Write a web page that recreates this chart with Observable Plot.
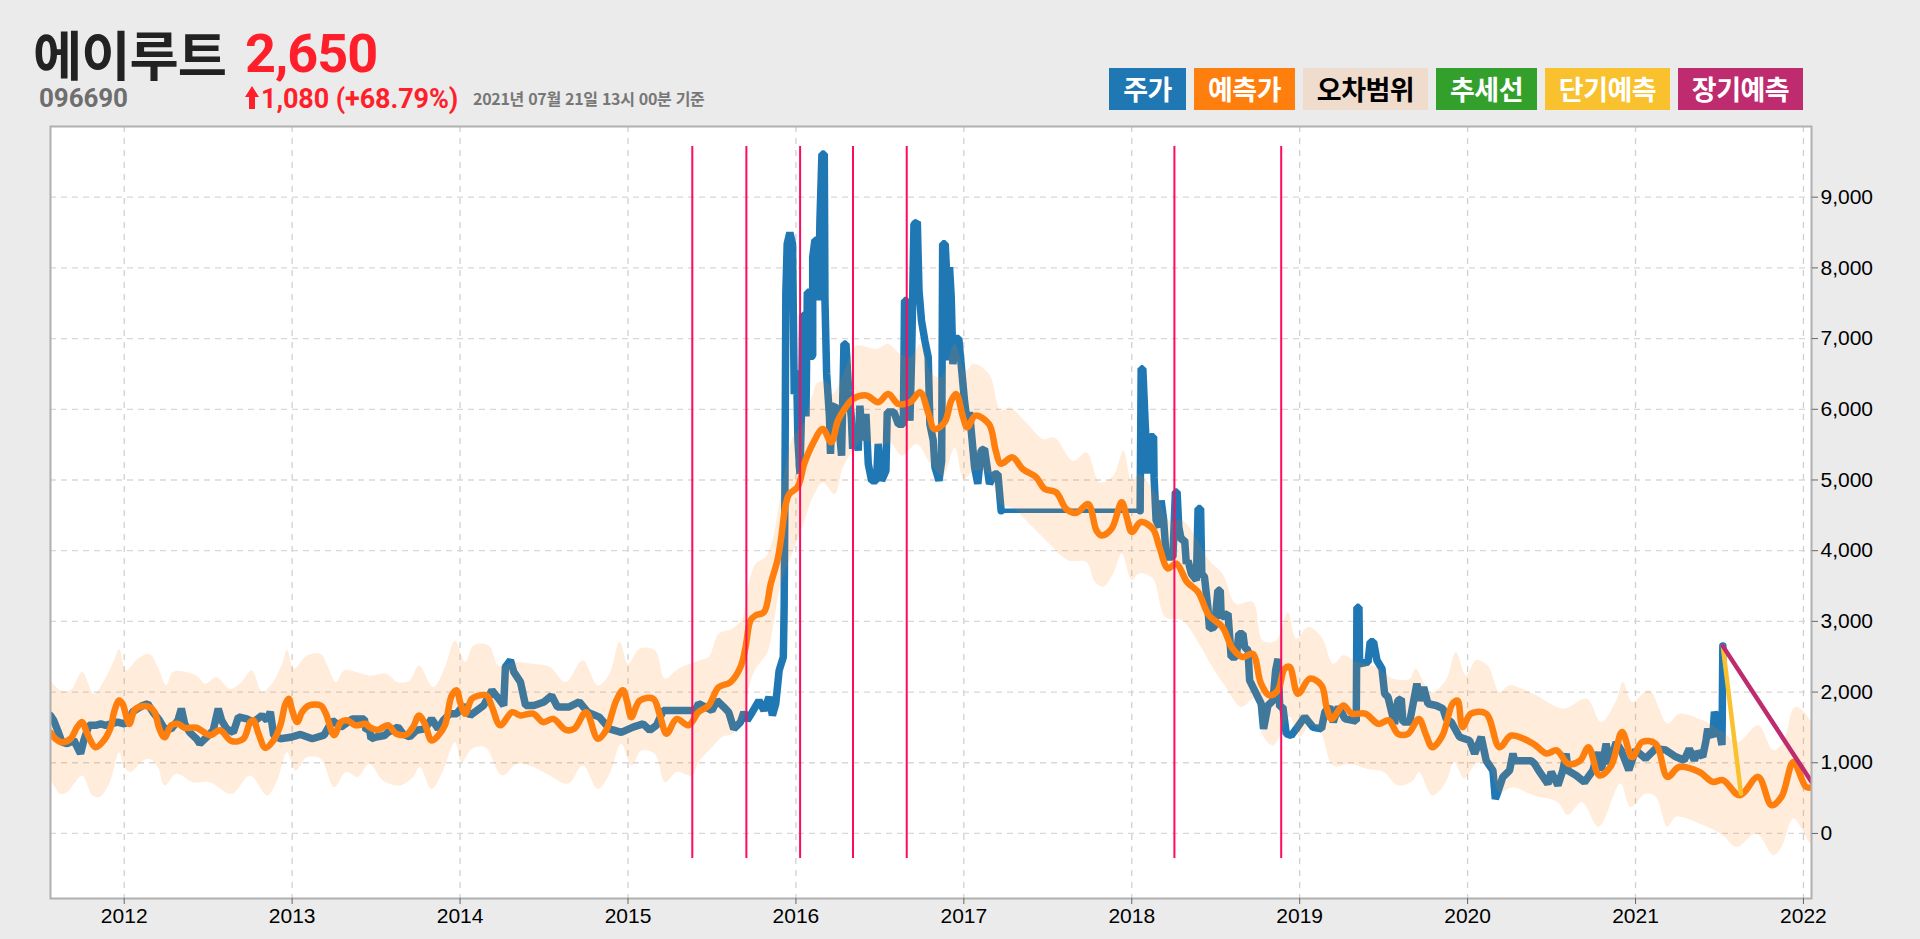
<!DOCTYPE html>
<html lang="ko"><head><meta charset="utf-8">
<script src="https://cdn.jsdelivr.net/npm/d3@7"></script>
<script src="https://cdn.jsdelivr.net/npm/@observablehq/plot@0.6"></script>
<style>
html,body{margin:0;padding:0;background:#ebebeb;width:1920px;height:939px;overflow:hidden}
body{position:relative;font-family:"Noto Sans CJK KR","Noto Sans",sans-serif}
#chart{position:absolute;left:0;top:0}
.t{position:absolute;white-space:nowrap;font-weight:700;line-height:1}
.lg{position:absolute;top:68px;height:42px;line-height:41px;text-align:center;font-weight:700;font-size:27px;color:#fff;letter-spacing:-.5px}
</style></head><body>
<div id="chart"></div>
<div id="head"></div>
<script>
const stockName = "에이루트", stockCode = "096690", lastPrice = "2,650", change = "1,080 (+68.79%)", stamp = "2021년 07월 21일 13시 00분 기준";
const legendLabels = ["주가","예측가","오차범위","추세선","단기예측","장기예측"];
const legendColors = ["#1f77b4","#ff7f0e","#efdccc","#33a02c","#f8c12d","#bf2b6f"];
const yearTicks = [2012,2013,2014,2015,2016,2017,2018,2019,2020,2021,2022];
const valueTicks = [0,1000,2000,3000,4000,5000,6000,7000,8000,9000];
const signalYears = [2015.383,2015.705,2016.025,2016.34,2016.66,2018.254,2018.89];
const shortTerm = [[2021.52,2650],[2021.628,565]];
const longTerm = [[2021.52,2650],[2022.048,730]];
const priceFlat = [[2017.222,4565],[2018.05,4565]];
const priceBefore = [[2011.56,1670],[2011.58,1600],[2011.60,1480],[2011.63,1290],[2011.66,1270],[2011.70,1320],[2011.73,1175],[2011.74,1130],[2011.76,1320],[2011.79,1530],[2011.83,1530],[2011.86,1550],[2011.89,1530],[2011.92,1550],[2011.96,1575],[2012.00,1550],[2012.03,1600],[2012.05,1720],[2012.08,1765],[2012.11,1810],[2012.14,1835],[2012.17,1720],[2012.21,1600],[2012.24,1480],[2012.28,1480],[2012.32,1600],[2012.34,1765],[2012.36,1550],[2012.39,1430],[2012.43,1340],[2012.45,1270],[2012.49,1360],[2012.53,1460],[2012.56,1765],[2012.58,1600],[2012.61,1480],[2012.65,1430],[2012.68,1650],[2012.73,1620],[2012.77,1575],[2012.82,1670],[2012.85,1600],[2012.87,1720],[2012.89,1390],[2012.93,1340],[2012.99,1360],[2013.05,1400],[2013.12,1340],[2013.19,1390],[2013.24,1600],[2013.29,1505],[2013.36,1620],[2013.43,1620],[2013.44,1460],[2013.46,1480],
[2013.47,1340],[2013.50,1365],[2013.55,1385],[2013.57,1430],[2013.63,1505],[2013.66,1410],[2013.70,1365],[2013.74,1460],[2013.79,1480],[2013.83,1620],[2013.87,1480],[2013.90,1600],[2013.94,1695],[2013.98,1695],[2014.02,1810],[2014.06,1670],[2014.10,1740],[2014.14,1810],[2014.19,2025],[2014.23,1905],[2014.26,1810],[2014.27,2355],[2014.30,2450],[2014.32,2285],[2014.36,2140],[2014.39,1810],[2014.44,1810],[2014.50,1860],[2014.545,1950],[2014.58,1790],[2014.65,1790],[2014.71,1860],[2014.76,1715],[2014.83,1645],[2014.89,1480],[2014.96,1430],[2015.03,1505],[2015.09,1550],[2015.13,1460],[2015.17,1530],[2015.21,1740],[2015.27,1740],[2015.34,1740],[2015.40,1740],
[2015.42,1835],[2015.46,1790],[2015.50,1740],[2015.53,1880],[2015.57,1790],[2015.60,1715],[2015.63,1480],[2015.67,1575],[2015.69,1715],[2015.71,1600],[2015.74,1715],[2015.78,1880],[2015.81,1740],[2015.84,1930],[2015.86,1670],[2015.88,1835],[2015.90,2305],[2015.925,2495],[2015.93,3200],[2015.935,5000],
[2015.94,7630],[2015.948,8340],[2015.964,8500],[2015.98,8340],[2015.984,7490],[2015.99,6215],[2016.004,6550],[2016.012,5560],[2016.024,5085],[2016.034,6030],[2016.04,7325],[2016.052,7325],[2016.06,5900],[2016.068,7655],[2016.083,7655],[2016.087,6735],[2016.10,6760],[2016.10,8150],[2016.113,8390],[2016.127,8390],[2016.135,7540],[2016.143,8670],[2016.155,9610],[2016.169,9610],[2016.173,7540],[2016.183,6500],[2016.20,5890],[2016.206,5370],[2016.214,6030],[2016.232,6050],[2016.252,5890],[2016.272,5345],[2016.286,6925],[2016.298,6925],[2016.314,6265],[2016.33,5890],[2016.338,5440],[2016.357,5770],[2016.371,5415],[2016.381,6050],[2016.397,5560],[2016.417,5935],[2016.431,5225],[2016.451,4990],[2016.48,4990],[2016.49,5510],[2016.51,4990],[2016.536,5130],[2016.544,5960],[2016.584,5960],[2016.61,5790],[2016.64,5790],[2016.647,7540],[2016.66,7540],[2016.663,6120],[2016.679,5840],[2016.689,6735],[2016.703,8620],[2016.723,8650],[2016.733,7680],[2016.748,7250],[2016.768,6970],[2016.788,6735],[2016.798,5790],[2016.818,5560],[2016.828,5180],[2016.852,4990],[2016.868,5270],[2016.874,8340],[2016.889,8340],[2016.895,8057],[2016.905,6690],[2016.915,8010],[2016.925,7585],[2016.935,6640],[2016.954,7000],[2016.97,7000],[2016.984,6640],[2017.004,6120],[2017.024,5745],[2017.034,5960],[2017.064,5180],[2017.083,4945],[2017.103,5415],[2017.123,5440],[2017.153,4945],[2017.183,5085],[2017.203,5085],[2017.222,4565]];
const priceAfter = [[2018.05,4565],[2018.056,6575],[2018.066,6575],[2018.08,5800],[2018.095,5090],[2018.11,5610],[2018.13,5610],[2018.133,5040],[2018.145,4430],[2018.165,4335],[2018.175,4710],[2018.19,4430],[2018.205,3910],[2018.245,3910],[2018.26,4830],[2018.27,4830],[2018.28,4335],[2018.295,4150],[2018.315,4150],[2018.325,3815],[2018.335,3860],[2018.355,3675],[2018.385,3580],[2018.395,4595],[2018.41,4595],[2018.417,3675],[2018.433,3630],[2018.453,3200],[2018.463,2895],[2018.493,2920],[2018.513,3440],[2018.527,3440],[2018.533,3060],[2018.573,3110],[2018.592,2495],[2018.622,2495],[2018.638,2825],[2018.662,2825],[2018.672,2640],[2018.692,2590],[2018.702,2165],[2018.742,1975],[2018.771,1835],[2018.785,1480],[2018.811,1810],[2018.841,1880],[2018.857,2310],[2018.871,2470],[2018.881,1790],[2018.90,1790],[2018.92,1410],[2018.95,1385],[2018.98,1480],[2019.03,1650],[2019.08,1500],
[2019.13,1480],[2019.15,1720],[2019.18,1790],[2019.20,1575],[2019.23,1790],[2019.27,1620],[2019.337,1590],[2019.341,3200],[2019.353,3200],[2019.357,2400],[2019.407,2425],[2019.42,2710],[2019.44,2710],[2019.46,2450],[2019.49,2330],[2019.506,1975],[2019.526,1930],[2019.565,1550],[2019.585,1880],[2019.605,1905],[2019.615,1575],[2019.655,1575],[2019.698,2120],[2019.714,1880],[2019.738,2070],[2019.764,1835],[2019.813,1810],[2019.853,1765],[2019.873,1620],[2019.903,1575],[2019.952,1365],[2020.012,1315],[2020.042,1130],[2020.081,1365],[2020.111,1030],[2020.151,890],[2020.165,490],[2020.18,585],[2020.21,800],[2020.25,890],[2020.27,1130],[2020.28,1030],[2020.379,1030],[2020.399,985],[2020.429,870],[2020.478,700],[2020.498,870],[2020.538,680],[2020.567,890],[2020.587,1130],[2020.597,890],[2020.647,820],[2020.696,725],[2020.746,890],[2020.776,1150],[2020.796,890],[2020.825,1270],[2020.845,985],[2020.885,1290],[2020.915,1175],[2020.96,895],[2021.00,1180],[2021.06,1060],[2021.12,1200],[2021.18,1180],[2021.24,1085],[2021.29,1035],[2021.32,1200],[2021.35,1035],[2021.37,1155],[2021.40,1085],[2021.42,1320],[2021.43,1480],[2021.46,1365],[2021.47,1720],[2021.49,1555],[2021.515,1250],[2021.52,2650]];
const forecast = [[2011.56,1430],[2011.59,1340],[2011.63,1290],[2011.68,1340],[2011.72,1505],[2011.75,1575],[2011.78,1410],[2011.83,1220],[2011.88,1320],[2011.92,1505],[2011.94,1720],[2011.97,1880],[2011.99,1835],[2012.03,1550],[2012.06,1740],[2012.09,1790],[2012.15,1790],[2012.18,1720],[2012.21,1480],[2012.24,1360],[2012.28,1530],[2012.32,1550],[2012.36,1495],[2012.43,1495],[2012.51,1390],[2012.57,1460],[2012.64,1305],[2012.71,1340],[2012.75,1575],[2012.77,1600],[2012.80,1410],[2012.84,1210],[2012.89,1320],[2012.93,1530],[2012.96,1835],[2012.98,1905],[2013.00,1740],[2013.03,1575],[2013.06,1720],[2013.10,1810],[2013.17,1810],[2013.20,1700],[2013.25,1390],[2013.29,1575],[2013.33,1600],[2013.375,1530],[2013.44,1550],
[2013.46,1505],[2013.51,1465],[2013.57,1530],[2013.62,1410],[2013.68,1400],[2013.72,1505],[2013.755,1670],[2013.79,1550],[2013.83,1315],[2013.87,1385],[2013.91,1530],[2013.95,1950],[2013.98,2025],[2014.00,1860],[2014.03,1695],[2014.07,1905],[2014.11,1950],[2014.16,1950],[2014.19,1790],[2014.24,1530],[2014.31,1715],[2014.36,1670],[2014.435,1695],[2014.495,1575],[2014.555,1620],[2014.63,1465],[2014.68,1480],[2014.75,1715],[2014.82,1340],[2014.87,1460],[2014.93,1880],[2014.97,2025],[2014.995,1860],[2015.02,1645],[2015.07,1880],[2015.15,1905],[2015.19,1670],[2015.23,1410],[2015.29,1620],[2015.36,1530],
[2015.42,1715],[2015.48,1810],[2015.54,2070],[2015.61,2140],[2015.67,2355],[2015.70,2635],[2015.73,3015],[2015.76,3085],[2015.81,3130],[2015.85,3530],[2015.89,3865],[2015.91,4145],[2015.94,4660],[2015.96,4800],[2016.01,4900],[2016.05,5230],[2016.10,5510],[2016.16,5720],[2016.21,5535],[2016.25,5840],[2016.29,6005],[2016.34,6145],[2016.42,6195],[2016.49,6100],[2016.55,6215],[2016.61,6075],[2016.68,6100],[2016.74,6240],[2016.79,5935],[2016.825,5720],[2016.885,5815],[2016.925,6120],[2016.955,6215],[2016.995,5890],[2017.02,5745],[2017.07,5910],[2017.15,5790],[2017.19,5415],[2017.22,5230],[2017.29,5320],[2017.35,5155],[2017.43,5040],[2017.48,4875],[2017.55,4825],[2017.61,4590],
[2017.67,4535],[2017.74,4660],[2017.79,4285],[2017.82,4215],[2017.88,4310],[2017.94,4685],[2017.97,4475],[2018.00,4265],[2018.055,4405],[2018.125,4310],[2018.165,4050],[2018.215,3750],[2018.265,3815],[2018.33,3555],[2018.395,3415],[2018.46,3085],[2018.54,2920],[2018.60,2615],[2018.66,2495],[2018.72,2540],[2018.77,2120],[2018.82,1955],[2018.87,2025],[2018.91,2330],[2018.94,2355],[2018.99,1975],[2019.06,2190],[2019.13,2095],[2019.16,1790],[2019.19,1620],[2019.26,1810],[2019.31,1695],[2019.39,1695],[2019.47,1550],[2019.53,1600],[2019.585,1410],[2019.645,1410],[2019.71,1620],[2019.75,1410],[2019.79,1220],[2019.85,1385],[2019.91,1835],[2019.94,1880],[2019.97,1505],[2020.02,1695],[2020.11,1695],[2020.19,1220],[2020.26,1385],[2020.39,1270],[2020.47,1130],[2020.53,1175],[2020.60,985],[2020.67,1030],[2020.72,1220],[2020.785,820],[2020.855,960],[2020.92,1435],[2020.98,1080],[2021.04,1295],[2021.12,1270],[2021.19,800],[2021.26,940],[2021.38,870],[2021.46,730],[2021.52,755],[2021.62,540],[2021.73,800],[2021.81,400],[2021.87,520],[2021.94,1010],[2022.015,660],[2022.048,650]];
const bandUpper = [[2011.56,2165],[2011.62,2025],[2011.68,2025],[2011.75,2285],[2011.82,1975],[2011.88,2165],[2011.94,2450],[2011.97,2610],[2012.01,2305],[2012.08,2470],[2012.15,2540],[2012.20,2355],[2012.25,2095],[2012.29,2285],[2012.43,2235],[2012.48,2120],[2012.55,2210],[2012.63,2045],[2012.69,2120],[2012.76,2305],[2012.82,2000],[2012.88,2120],[2012.94,2400],[2012.97,2600],[2013.01,2330],[2013.09,2520],[2013.17,2540],[2013.21,2375],[2013.26,2140],[2013.31,2305],[2013.46,2235],[2013.56,2260],[2013.63,2140],[2013.70,2165],[2013.755,2375],[2013.84,2070],[2013.91,2355],[2013.97,2730],[2014.03,2425],[2014.08,2660],[2014.17,2660],[2014.23,2375],[2014.32,2425],[2014.435,2400],[2014.535,2355],[2014.63,2140],[2014.73,2450],[2014.82,2095],[2014.89,2260],[2014.95,2710],[2015.00,2400],[2015.07,2615],[2015.16,2590],[2015.22,2190],[2015.30,2330],[2015.43,2450],[2015.48,2495],[2015.54,2825],[2015.62,2895],[2015.68,3040],[2015.71,3440],[2015.76,3815],[2015.82,3910],[2015.86,4145],[2015.90,4660],[2015.98,5600],[2016.04,5790],[2016.10,6215],[2016.13,6380],[2016.19,6380],[2016.22,6215],[2016.28,6500],[2016.32,6735],[2016.36,6900],[2016.48,6855],[2016.55,6925],[2016.62,6785],[2016.68,6735],[2016.74,6925],[2016.81,6500],[2016.865,6455],[2016.945,6925],[2017.01,6545],[2017.06,6640],[2017.15,6500],[2017.22,5980],[2017.27,6030],[2017.37,5815],[2017.47,5580],[2017.54,5600],[2017.65,5270],[2017.73,5390],[2017.81,4965],[2017.89,5060],[2017.95,5410],[2018.00,4990],[2018.045,5085],[2018.145,4800],[2018.225,4425],[2018.30,4430],[2018.38,4195],[2018.46,3865],[2018.54,3675],[2018.62,3250],[2018.72,3275],[2018.78,2730],[2018.86,2730],[2018.93,3130],[2018.98,2755],[2019.05,2920],[2019.13,2780],[2019.20,2400],[2019.26,2520],[2019.34,2425],[2019.46,2355],[2019.555,2190],[2019.655,2190],[2019.69,2330],[2019.78,2000],[2019.87,2165],[2019.93,2565],[2019.99,2235],[2020.05,2450],[2020.12,2375],[2020.19,2000],[2020.25,2095],[2020.39,1975],[2020.57,1765],[2020.71,1905],[2020.795,1575],[2020.885,1880],[2020.925,2145],[2020.98,1860],[2021.08,2025],[2021.19,1555],[2021.26,1695],[2021.40,1600],[2021.52,1435],[2021.61,1295],[2021.73,1530],[2021.82,1180],[2021.88,1295],[2021.95,1790],[2022.048,1555]];
const bandLower = [[2011.56,774],[2011.62,560],[2011.66,585],[2011.70,700],[2011.75,820],[2011.81,540],[2011.85,515],[2011.91,700],[2011.97,1150],[2012.00,940],[2012.04,870],[2012.10,1010],[2012.15,1055],[2012.20,940],[2012.24,680],[2012.31,845],[2012.41,725],[2012.51,725],[2012.64,560],[2012.75,820],[2012.85,540],[2012.91,750],[2012.97,1150],[2013.02,890],[2013.09,1080],[2013.17,1055],[2013.25,655],[2013.32,870],[2013.39,800],[2013.46,985],[2013.54,750],[2013.64,680],[2013.72,800],[2013.76,940],[2013.83,630],[2013.89,845],[2013.97,1290],[2014.01,1010],[2014.07,1200],[2014.15,1220],[2014.25,820],[2014.34,985],[2014.435,940],[2014.515,845],[2014.645,705],[2014.73,960],[2014.82,630],[2014.89,845],[2014.96,1270],[2015.02,960],[2015.08,1175],[2015.16,1125],[2015.22,725],[2015.29,870],[2015.38,820],[2015.42,1010],[2015.50,1220],[2015.56,1365],[2015.62,1410],[2015.69,1645],[2015.72,2070],[2015.76,2330],[2015.83,2565],[2015.87,3015],[2015.91,3530],[2016.00,4095],[2016.05,4425],[2016.10,4755],[2016.16,4965],[2016.23,4800],[2016.28,5180],[2016.34,5415],[2016.40,5555],[2016.50,5485],[2016.56,5530],[2016.63,5345],[2016.72,5510],[2016.80,5230],[2016.875,5060],[2016.945,5460],[2017.00,5015],[2017.06,5130],[2017.15,5085],[2017.22,4660],[2017.30,4590],[2017.39,4380],[2017.50,4120],[2017.62,3865],[2017.73,3840],[2017.78,3560],[2017.83,3490],[2017.89,3680],[2017.94,3960],[2018.00,3585],[2018.045,3680],[2018.125,3610],[2018.20,3060],[2018.30,3015],[2018.40,2685],[2018.48,2355],[2018.56,2070],[2018.65,1790],[2018.73,1905],[2018.78,1385],[2018.84,1245],[2018.88,1365],[2018.94,1650],[2019.00,1365],[2019.06,1530],[2019.12,1455],[2019.20,960],[2019.30,985],[2019.40,915],[2019.50,870],[2019.585,680],[2019.675,750],[2019.71,870],[2019.79,540],[2019.87,725],[2019.92,1010],[2019.98,775],[2020.05,985],[2020.12,960],[2020.19,585],[2020.27,655],[2020.39,540],[2020.535,445],[2020.595,260],[2020.68,445],[2020.78,95],[2020.91,705],[2020.97,375],[2021.06,565],[2021.12,520],[2021.19,95],[2021.24,235],[2021.38,140],[2021.52,-25],[2021.60,-190],[2021.72,0],[2021.82,-305],[2021.87,-190],[2021.94,210],[2022.048,-140]];

const X = d => d[0], Y = d => d[1];
const bandOutline = [...bandUpper, ...[...bandLower].reverse()];
const comma = d3.format(",");

const chart = Plot.plot({
  width: 1920, height: 939,
  marginLeft: 50, marginRight: 109, marginTop: 126, marginBottom: 41,
  style: {background: "transparent", fontFamily: "'Liberation Sans',Arial,sans-serif", fontSize: "21px", color: "#000", overflow: "visible"},
  x: {type: "linear", domain: [2011.561, 2022.048]},
  y: {domain: [-920, 10000]},
  marks: [
    Plot.frame({fill: "#fff", stroke: "none"}),
    Plot.gridX(yearTicks, {stroke: "#d0d0d0", strokeOpacity: 1, strokeWidth: 1.3, strokeDasharray: "6,6"}),
    Plot.gridY(valueTicks, {stroke: "#d8d8d8", strokeOpacity: 1, strokeWidth: 1.3, strokeDasharray: "6,5"}),
    Plot.line(priceBefore, {x: X, y: Y, stroke: "#1f77b4", strokeWidth: 7.5, strokeLinejoin: "bevel", clip: true}),
    Plot.line(priceFlat, {x: X, y: Y, stroke: "#1f77b4", strokeWidth: 4.5, clip: true}),
    Plot.line(priceAfter, {x: X, y: Y, stroke: "#1f77b4", strokeWidth: 7.5, strokeLinejoin: "bevel", clip: true}),
    Plot.line(bandOutline, {x: X, y: Y, curve: "catmull-rom", fill: "#ff7f0e", fillOpacity: 0.15, stroke: "none", clip: true}),
    Plot.line(forecast, {x: X, y: Y, curve: "catmull-rom", stroke: "#ff7f0e", strokeWidth: 6.5, clip: true}),
    Plot.ruleX(signalYears, {y1: -354, y2: 9717, stroke: "#ff0a60", strokeWidth: 2}),
    Plot.line(shortTerm, {x: X, y: Y, stroke: "#f8c12d", strokeWidth: 4.5, clip: true}),
    Plot.line(longTerm, {x: X, y: Y, stroke: "#bf2b6f", strokeWidth: 4.5, clip: true}),
    Plot.frame({stroke: "#b0b0b0", strokeWidth: 2}),
    Plot.axisX(yearTicks, {label: null, tickFormat: "d", tickSize: 6, tickPadding: 4, stroke: "#666", fontSize: 21, fill: "#000"}),
    Plot.axisY(valueTicks, {anchor: "right", label: null, tickFormat: d => comma(d), tickSize: 6, tickPadding: 3, stroke: "#666", fontSize: 21, fill: "#000"})
  ]
});
document.getElementById("chart").append(chart);

const head = document.getElementById("head");
function text(str, css) { const d = document.createElement("div"); d.className = "t"; d.textContent = str; d.style.cssText = css; head.append(d); }
const latin = "font-family:Roboto,'Liberation Sans',sans-serif;";
text(stockName, "left:33px;top:26px;font-size:53.5px;color:#222;letter-spacing:-1px");
text(lastPrice, latin + "left:245px;top:27px;font-size:54px;color:#ff1f2b;letter-spacing:-1px");
text(stockCode, latin + "left:39px;top:85px;font-size:26px;color:#6e6e6e;letter-spacing:-.1px");
text(change, latin + "left:261px;top:86px;font-size:27px;color:#ff1f2b;letter-spacing:-.1px");
text(stamp, "left:473px;top:90px;font-size:16px;color:#777;letter-spacing:-.3px");
const arrow = document.createElementNS("http://www.w3.org/2000/svg", "svg");
arrow.setAttribute("width", 14); arrow.setAttribute("height", 23);
arrow.style.cssText = "position:absolute;left:245px;top:86px";
arrow.innerHTML = '<path d="M7 0L14 11H10V23H4V11H0Z" fill="#ff1f2b"/>';
head.append(arrow);
const lefts = [1109,1194,1303,1436,1545,1678], rights = [1186,1295,1428,1537,1670,1803];
legendLabels.forEach((s, i) => {
  const d = document.createElement("div"); d.className = "lg"; d.textContent = s;
  d.style.left = lefts[i] + "px"; d.style.width = (rights[i] - lefts[i]) + "px";
  d.style.background = legendColors[i]; if (i === 2) d.style.color = "#000";
  head.append(d);
});
</script></body></html>
